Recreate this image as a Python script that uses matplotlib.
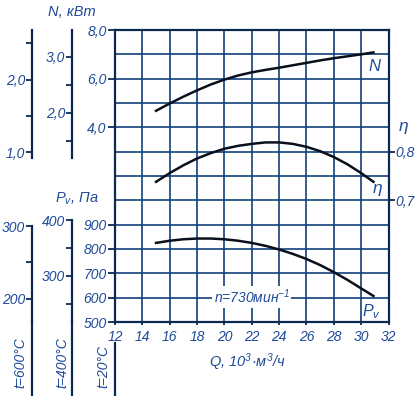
import numpy as np
import matplotlib.pyplot as plt
from matplotlib.lines import Line2D

plt.rcParams['font.family'] = ['Liberation Sans', 'DejaVu Sans']
plt.rcParams['font.style'] = 'italic'
plt.rcParams['mathtext.fontset'] = 'custom'
plt.rcParams['mathtext.rm'] = 'Liberation Sans:italic'
plt.rcParams['mathtext.it'] = 'Liberation Sans:italic'

# air flow, 10^3 m3/h
q = [15.0, 16, 17, 18, 19, 20, 21, 22, 23, 24, 25, 26, 27, 28, 29, 30, 30.9]
# power, kW (t=20C)
n_kw = [4.68, 4.98, 5.26, 5.52, 5.76, 5.96, 6.13, 6.26, 6.36, 6.45, 6.55, 6.65,
        6.75, 6.84, 6.92, 7.00, 7.08]
# efficiency
eta = [0.738, 0.756, 0.772, 0.786, 0.797, 0.806, 0.812, 0.816, 0.819, 0.819,
       0.816, 0.810, 0.801, 0.789, 0.774, 0.756, 0.738]
# pressure Pv, Pa (t=20C)
pv = [825, 834, 840, 843, 843, 840, 834, 825, 813, 798, 780, 759, 734, 705,
      673, 638, 607]

q_ticks = list(range(12, 34, 2))
pv_ticks = [500, 600, 700, 800, 900]
n_ticks = [4.0, 6.0, 8.0]
eta_ticks = [0.7, 0.8]

# side scales for hot gas
temps = [600, 400]
side_n_ticks = {600: [1.0, 1.5, 2.0, 2.5], 400: [1.5, 2.0, 2.5, 3.0]}
side_n_labels = {600: [1.0, 2.0], 400: [2.0, 3.0]}
side_pv_ticks = {600: [200, 250, 300], 400: [250, 300, 350, 400]}
side_pv_labels = {600: [200, 300], 400: [300, 400]}
side_x = {600: 32, 400: 72}

TXT = '#1f4a9a'
GRID = '#123f7a'
AXL = '#0b2a52'
CRV = '#0a0f1e'
FS = 10
WPX, HPX = 418, 396

def fx(px):
    return px / WPX

def fy(py):
    return 1 - py / HPX

def fmt(v):
    return ('%.1f' % v).replace('.', ',')

fig = plt.figure(figsize=(WPX / 100, HPX / 100), dpi=100)
L, B = fx(115), fy(322)
W, H = fx(388.5) - fx(115), fy(30) - fy(322)

# main axes: Pv scale
ax = fig.add_axes([L, B, W, H])
ax.set_xlim(12, 32)
ax.set_ylim(500, 1700)
ax.set_xticks(q_ticks)
ax.set_xticklabels([str(v) for v in q_ticks], fontstyle='italic')
ax.set_yticks(pv_ticks)
ax.set_yticklabels([str(v) for v in pv_ticks], fontstyle='italic')
ax.set_yticks(np.arange(500, 1800, 100), minor=True)
ax.grid(True, which='both', color=GRID, lw=1.2)
ax.tick_params(which='minor', length=0)
ax.tick_params(axis='y', which='major', length=5, width=1.3, pad=1, color=AXL,
               labelcolor=TXT, labelsize=FS)
ax.tick_params(axis='x', length=2.5, width=1.3, pad=3, color=AXL,
               labelcolor=TXT, labelsize=FS)
for s in ax.spines.values():
    s.set_color(AXL)
    s.set_linewidth(1.6)
ax.plot(q, pv, color=CRV, lw=1.8)
ax.text(30.75, 541, 'P$_v$', color=TXT, fontsize=11.5, ha='center', va='center')
ax.text(22, 603, 'n=730мин$^{-1}$', color=TXT, fontsize=FS, ha='center', va='center',
        bbox=dict(facecolor='white', edgecolor='none', pad=1))

# N scale
axn = ax.twinx()
axn.set_ylim(-4, 8)
axn.yaxis.tick_left()
axn.set_yticks(n_ticks)
axn.set_yticklabels([fmt(v) for v in n_ticks], fontstyle='italic')
axn.tick_params(axis='y', length=5, width=1.3, pad=1, color=AXL,
                labelcolor=TXT, labelsize=FS)
for s in axn.spines.values():
    s.set_visible(False)
axn.plot(q, n_kw, color=CRV, lw=1.8)
axn.text(31.0, 6.5, 'N', color=TXT, fontsize=12, ha='center', va='center')

# eta scale
axe = ax.twinx()
axe.set_ylim(0.45, 1.05)
axe.set_yticks(eta_ticks)
axe.set_yticklabels([fmt(v) for v in eta_ticks], fontstyle='italic')
axe.tick_params(axis='y', length=4, width=1.3, pad=1, color=AXL,
                labelcolor=TXT, labelsize=FS)
for s in axe.spines.values():
    s.set_visible(False)
axe.plot(q, eta, color=CRV, lw=1.8)
axe.text(31.2, 0.725, 'η', color=TXT, fontsize=12.5, ha='center', va='center')

# side scales
def side_axis(xpx, lim, ticks, labels, lo, hi):
    a = fig.add_axes([fx(xpx), B, 1e-4, H])
    a.patch.set_visible(False)
    a.set_ylim(*lim)
    a.set_xticks([])
    for k in ['top', 'right', 'bottom']:
        a.spines[k].set_visible(False)
    a.spines['left'].set_color(AXL)
    a.spines['left'].set_linewidth(1.6)
    a.spines['left'].set_bounds(lo, hi)
    a.set_yticks(ticks)
    a.set_yticklabels([labels(v) for v in ticks], fontstyle='italic')
    a.tick_params(axis='y', length=4, width=1.3, pad=1, color=AXL,
                  labelcolor=TXT, labelsize=FS)
    return a

for t in temps:
    r = 293.0 / (273 + t)
    nlim = (-4 * r, 8 * r)
    side_axis(side_x[t], nlim, side_n_ticks[t],
              lambda v, t=t: fmt(v) if v in side_n_labels[t] else '',
              2.74 * r, nlim[1])
    plim = (500 * r, 1700 * r)
    side_axis(side_x[t], plim, side_pv_ticks[t],
              lambda v, t=t: str(v) if v in side_pv_labels[t] else '',
              plim[0], max(side_pv_ticks[t]))
    fig.add_artist(Line2D([fx(side_x[t])] * 2, [0, B], color=AXL, lw=1.6))
fig.add_artist(Line2D([fx(115)] * 2, [0, fy(343)], color=AXL, lw=1.6))

# labels
fig.text(fx(72), fy(12), 'N, кВт', color=TXT, fontsize=10.5, ha='center', va='center')
fig.text(fx(77), fy(199), 'P$_v$, Па', color=TXT, fontsize=10.5, ha='center', va='center')
fig.text(fx(404), fy(127), 'η', color=TXT, fontsize=12.5, ha='center', va='center')
fig.text(fx(247), fy(362), 'Q, 10$^3$·м$^3$/ч', color=TXT, fontsize=10.5,
         ha='center', va='center')
fig.text(fx(20), fy(363), 't=600°C', color=TXT, fontsize=FS, rotation=90,
         ha='center', va='center')
fig.text(fx(62), fy(363), 't=400°C', color=TXT, fontsize=FS, rotation=90,
         ha='center', va='center')
fig.text(fx(103), fy(366), 't=20°C', color=TXT, fontsize=FS, rotation=90,
         ha='center', va='center')

fig.savefig('out.png', dpi=100)
